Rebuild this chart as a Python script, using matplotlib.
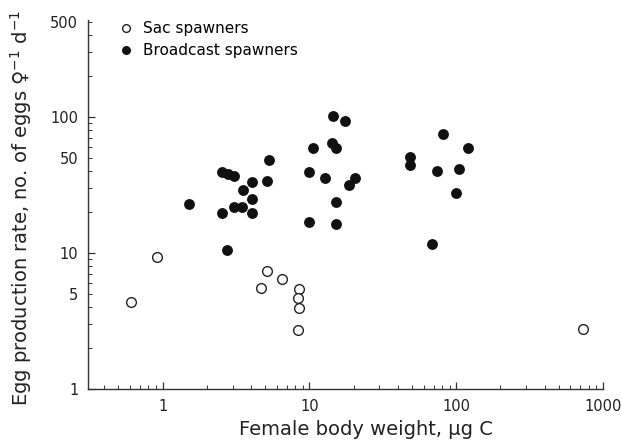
import numpy as np
import matplotlib.pyplot as plt

plt.rcParams['font.family'] = ['DejaVu Sans']
plt.rcParams['mathtext.fontset'] = 'dejavusans'

# Sac spawners (open circles): body weight (ug C), eggs per female per day
sac_w = [0.61, 0.91, 5.1, 6.5, 4.7, 8.5, 8.4, 8.5, 8.35, 726]
sac_e = [4.4, 9.3, 7.4, 6.4, 5.5, 5.45, 4.7, 3.95, 2.7, 2.75]

# Broadcast spawners (filled circles)
bc_w = [1.52, 2.52, 2.77, 3.08, 4.06, 5.17, 5.26, 3.54, 4.06, 3.04, 3.45, 2.52,
        4.06, 2.73, 10.0, 10.0, 14.5, 17.6, 10.6, 14.3, 15.2, 12.7, 20.3, 18.5,
        15.1, 15.1, 80.7, 120.6, 48.5, 48.5, 74.3, 104.8, 99.5, 68.0]
bc_e = [22.8, 39.6, 38.1, 37.0, 33.1, 34.0, 48.3, 29.1, 25.2, 21.8, 21.8, 19.8,
        19.8, 10.5, 39.6, 16.8, 103, 94.6, 59.5, 64.7, 58.9, 35.6, 35.8, 31.5,
        23.7, 16.3, 75.4, 59.5, 50.6, 44.6, 40.1, 41.5, 27.9, 11.7]

x_major = [1, 10, 100, 1000]
y_labeled = [1, 5, 10, 50, 100, 500]

fig = plt.figure(figsize=(6.22, 4.44), dpi=100)
ax = fig.add_axes([0.1415, 0.124, 0.828, 0.831])

ax.plot(sac_w, sac_e, 'o', ms=7, mfc='white', mec='#222222', mew=1.0,
        ls='none', label='Sac spawners')
ax.plot(bc_w, bc_e, 'o', ms=6.8, mfc='#111111', mec='#111111',
        ls='none', label='Broadcast spawners')

ax.set_xscale('log')
ax.set_yscale('log')
ax.set_xlim(0.31, 1000)
ax.set_ylim(1, 520)

ax.spines['top'].set_visible(False)
ax.spines['right'].set_visible(False)
for s in ['left', 'bottom']:
    ax.spines[s].set_color('#333333')
    ax.spines[s].set_linewidth(1.0)

# x ticks
ax.set_xticks(x_major)
ax.set_xticklabels([str(v) for v in x_major])
x_minor = [m * 10.0**d for d in range(-1, 3) for m in range(2, 10)]
x_minor = [v for v in x_minor if 0.31 <= v <= 1000]
ax.set_xticks(x_minor, minor=True)
ax.set_xticklabels([''] * len(x_minor), minor=True)

# y ticks
y_all = [m * 10.0**d for d in range(0, 3) for m in range(1, 10)]
y_all = [v for v in y_all if v <= 520]
ax.set_yticks([1, 10, 100])
ax.set_yticklabels(['1', '10', '100'])
y_minor = [v for v in y_all if v not in (1, 10, 100)]
ax.set_yticks(y_minor, minor=True)
ax.set_yticklabels([str(int(v)) if int(v) in y_labeled else '' for v in y_minor],
                   minor=True)

ax.tick_params(which='both', direction='in', colors='#333333',
               labelcolor='#222222', labelsize=10.5, pad=7)
ax.tick_params(which='major', length=5, width=0.9)
ax.tick_params(which='minor', length=3, width=0.7)

ax.set_xlabel('Female body weight, µg C', fontsize=14, color='#222222')
ax.xaxis.set_label_coords(0.54, -0.085)
ax.set_ylabel('Egg production rate, no. of eggs ♀$^{-1}$ d$^{-1}$', fontsize=14,
              color='#222222')
ax.yaxis.set_label_coords(-0.105, 0.49)

ax.legend(loc='upper left', bbox_to_anchor=(0.047, 1.013), frameon=False,
          fontsize=11, handletextpad=0.6, labelspacing=0.45,
          borderaxespad=0, handlelength=1.0, markerscale=0.8)

plt.savefig('out.png', dpi=100)
